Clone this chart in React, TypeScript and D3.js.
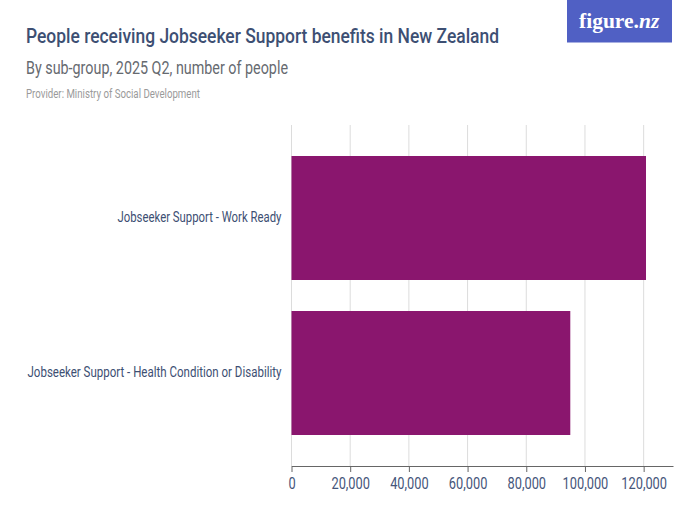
import { useEffect, useRef } from 'react'
import * as d3 from 'd3'

const categories = ['Jobseeker Support - Work Ready', 'Jobseeker Support - Health Condition or Disability']
const people = [120800, 95000]
const xTicks = [0, 20000, 40000, 60000, 80000, 100000, 120000]

const W = 700
const H = 525
const M = { top: 125, right: 27, bottom: 59, left: 291.5 }
const C_BAR = '#8a166e'
const C_TITLE = '#3d4f73'
const C_TICK = '#45557a'
const C_SUB = '#666a70'
const C_MUT = '#9a9a9a'
const C_GRID = '#dcdcdc'
const C_AXIS = '#666666'
const C_LOGO = '#5060c4'
const FONT = 'Roboto, sans-serif'

// the original face is a narrow grotesk: squeeze Roboto to the same run width
const squeeze = (el: SVGTextElement, width: number) => {
  el.setAttribute('textLength', String(width))
  el.setAttribute('lengthAdjust', 'spacingAndGlyphs')
}

export default function App() {
  const ref = useRef<SVGSVGElement>(null)

  useEffect(() => {
    if (!ref.current) return
    const svg = d3.select(ref.current)
    svg.selectAll('*').remove()

    const iW = W - M.left - M.right
    const iH = H - M.top - M.bottom
    const g = svg.append('g').attr('transform', `translate(${M.left},${M.top})`)

    const x = d3.scaleLinear().domain([0, 130000]).range([0, iW])
    const y = d3.scaleBand().domain(categories).range([0, iH]).paddingInner(0.2).paddingOuter(0.2)

    // grid
    g.append('g')
      .selectAll('line')
      .data(xTicks)
      .join('line')
        .attr('x1', d => x(d)).attr('x2', d => x(d))
        .attr('y1', 0).attr('y2', iH)
        .attr('stroke', C_GRID).attr('stroke-width', 1)

    // bars
    g.append('g')
      .selectAll('rect')
      .data(categories)
      .join('rect')
        .attr('x', 0)
        .attr('y', d => y(d) ?? 0)
        .attr('width', (_, i) => x(people[i]))
        .attr('height', y.bandwidth())
        .attr('fill', C_BAR)

    // axes
    g.append('g')
      .attr('transform', `translate(0,${iH})`)
      .call(d3.axisBottom(x).tickValues(xTicks).tickSize(6).tickPadding(6).tickSizeOuter(0)
        .tickFormat(v => d3.format(',')(+v)))
      .call(gg => gg.select('.domain').attr('stroke', C_AXIS).attr('stroke-width', 1))
      .call(gg => gg.selectAll('.tick line').attr('stroke', C_AXIS))
      .call(gg => gg.selectAll<SVGTextElement, unknown>('text')
        .attr('fill', C_TICK).attr('font-size', 16).attr('font-family', FONT)
        .each(function () { squeeze(this, this.getComputedTextLength() * 0.8) }))

    const labelWidths = [164, 254]
    g.append('g')
      .call(d3.axisLeft(y).tickSize(0).tickPadding(10))
      .call(gg => gg.select('.domain').remove())
      .call(gg => gg.selectAll<SVGTextElement, unknown>('text')
        .attr('y', -1)
        .attr('fill', C_TITLE).attr('font-size', 15).attr('font-family', FONT)
        .each(function (_, i) { squeeze(this, labelWidths[i]) }))

    // header
    svg.append('text')
      .attr('x', 26).attr('y', 43)
      .attr('fill', C_TITLE).attr('font-family', FONT)
      .attr('font-size', 21).attr('font-weight', 500)
      .text('People receiving Jobseeker Support benefits in New Zealand')
      .each(function () { squeeze(this, 473) })

    svg.append('text')
      .attr('x', 26).attr('y', 74)
      .attr('fill', C_SUB).attr('font-family', FONT)
      .attr('font-size', 18)
      .text('By sub-group, 2025 Q2, number of people')
      .each(function () { squeeze(this, 262) })

    svg.append('text')
      .attr('x', 26).attr('y', 98)
      .attr('fill', C_MUT).attr('font-family', FONT)
      .attr('font-size', 12.5)
      .text('Provider: Ministry of Social Development')
      .each(function () { squeeze(this, 174) })

    // logo
    svg.append('rect')
      .attr('x', 567).attr('y', 0).attr('width', 105).attr('height', 42.5)
      .attr('fill', C_LOGO)

    const logo = svg.append('text')
      .attr('x', 579).attr('y', 27.5)
      .attr('fill', '#ffffff').attr('font-family', '"Liberation Serif", serif')
      .attr('font-size', 21.5).attr('font-weight', 700)
    logo.append('tspan').text('figure.')
    logo.append('tspan').attr('font-style', 'italic').text('nz')
  }, [])

  return (
    <svg
      ref={ref}
      width={W}
      height={H}
      viewBox={`0 0 ${W} ${H}`}
      style={{ position: 'absolute', left: 0, top: 0, display: 'block', background: '#fff' }}
    />
  )
}
